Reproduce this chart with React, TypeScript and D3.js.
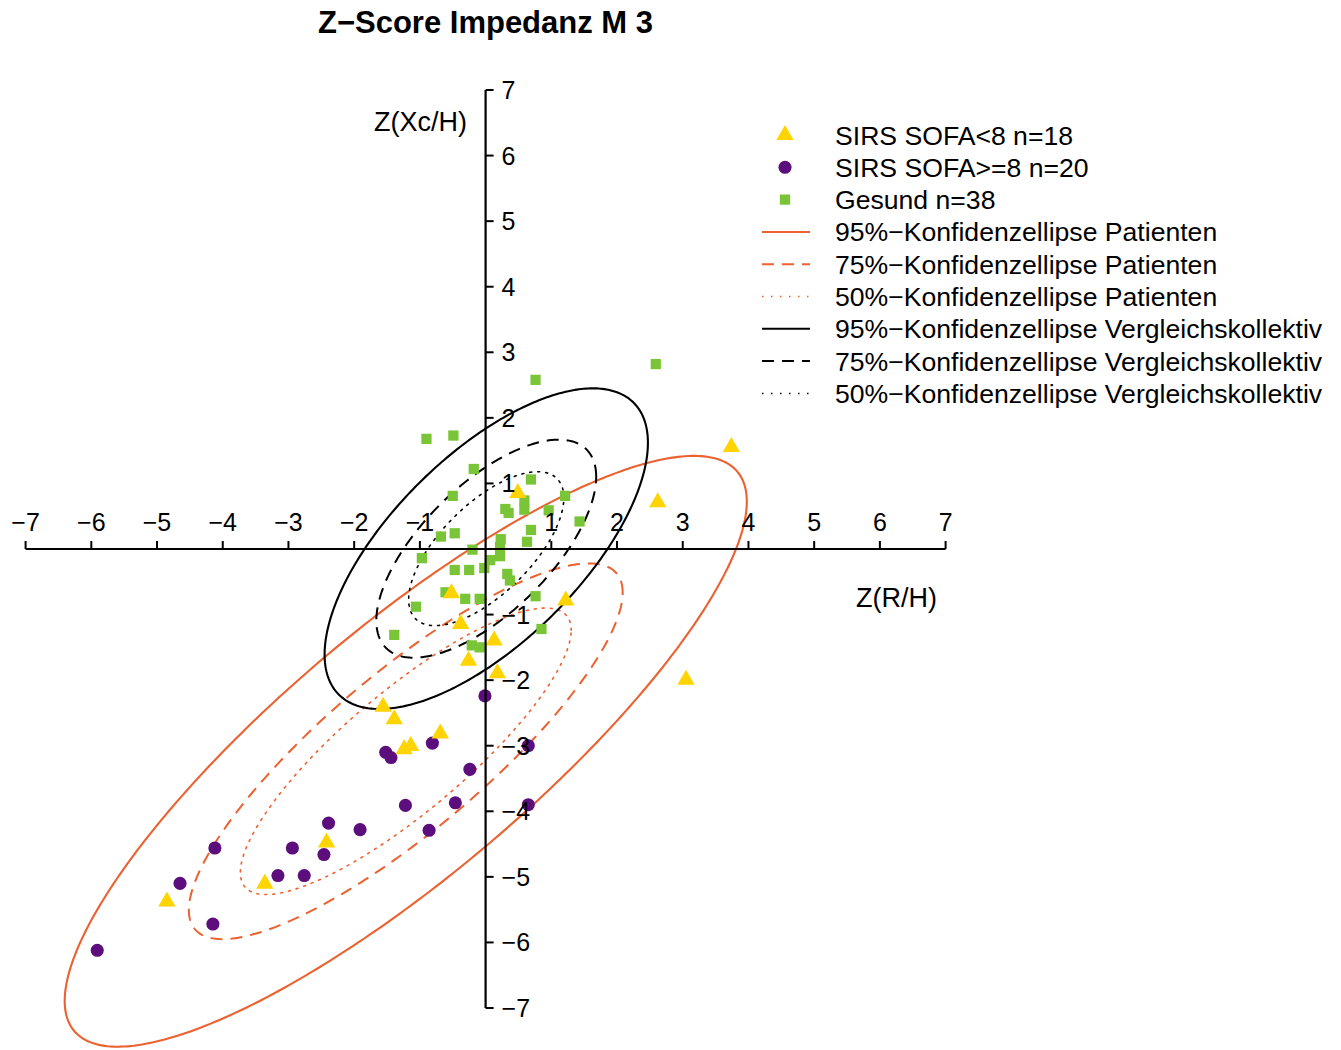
import React from "react";
import * as d3 from "d3";

// ---------- data ----------
const TITLE = "Z\u2212Score Impedanz M 3";
const X_LABEL = "Z(R/H)";
const Y_LABEL = "Z(Xc/H)";
const xTickValues = [-7, -6, -5, -4, -3, -2, -1, 1, 2, 3, 4, 5, 6, 7];
const yTickValues = [7, 6, 5, 4, 3, 2, 1, -1, -2, -3, -4, -5, -6, -7];

// SIRS SOFA<8 (triangles)
const sofaLow: [number, number][] = [
  [3.74, 1.57], [2.62, 0.73], [0.49, 0.87], [1.22, -0.77], [-0.52, -0.66],
  [-0.38, -1.13], [0.13, -1.38], [-0.26, -1.69], [0.18, -1.88], [3.05, -1.98],
  [-1.56, -2.39], [-1.39, -2.58], [-0.69, -2.8], [-1.14, -2.99], [-1.24, -3.04],
  [-2.42, -4.46], [-3.36, -5.09], [-4.85, -5.36],
];

// SIRS SOFA>=8 (circles)
const sofaHigh: [number, number][] = [
  [-0.01, -2.24], [0.65, -3.0], [-1.52, -3.1], [-1.44, -3.18], [-0.81, -2.96],
  [-0.24, -3.36], [0.65, -3.9], [-1.22, -3.91], [-0.46, -3.87], [-0.86, -4.29],
  [-1.91, -4.28], [-2.39, -4.18], [-2.46, -4.66], [-2.94, -4.56], [-2.76, -4.98],
  [-3.16, -4.98], [-4.12, -4.56], [-4.65, -5.1], [-4.15, -5.72], [-5.91, -6.12],
];

// Gesund (squares)
const healthy: [number, number][] = [
  [-0.9, 1.68], [-0.49, 1.73], [0.76, 2.58], [-0.18, 1.22], [-0.5, 0.81],
  [0.69, 1.06], [0.59, 0.74], [0.59, 0.6], [0.3, 0.61], [0.35, 0.55],
  [1.21, 0.81], [0.96, 0.59], [1.43, 0.42], [0.69, 0.29], [0.63, 0.11],
  [-0.68, 0.19], [-0.47, 0.24], [0.23, 0.15], [-0.2, -0.01], [0.22, 0.03],
  [0.22, -0.11], [0.07, -0.17], [-0.97, -0.14], [-0.47, -0.32], [-0.25, -0.32],
  [-0.02, -0.29], [0.33, -0.38], [0.37, -0.48], [-0.61, -0.66], [-0.31, -0.76],
  [-0.09, -0.76], [0.76, -0.72], [-1.06, -0.88], [0.85, -1.22], [-1.39, -1.31],
  [-0.21, -1.47], [-0.09, -1.5], [2.59, 2.82],
];

// Confidence ellipses: centre, half extents of the 95% ellipse, correlation, level scales
const patientCenter = [-1.215, -3.085];
const patientHalf = [5.19, 4.505];
const patientRho = 0.845;
const patientLevels = [1, 0.636, 0.485];

const controlCenter = [0.01, 0.005];
const controlHalf = [2.46, 2.445];
const controlRho = 0.66;
const controlLevels = [1, 0.68, 0.48];

const legendLabels = [
  "SIRS SOFA<8 n=18",
  "SIRS SOFA>=8 n=20",
  "Gesund n=38",
  "95%\u2212Konfidenzellipse Patienten",
  "75%\u2212Konfidenzellipse Patienten",
  "50%\u2212Konfidenzellipse Patienten",
  "95%\u2212Konfidenzellipse Vergleichskollektiv",
  "75%\u2212Konfidenzellipse Vergleichskollektiv",
  "50%\u2212Konfidenzellipse Vergleichskollektiv",
];

// ---------- styles ----------
const ORANGE = "#EC6130";
const YELLOW = "#FFD400";
const PURPLE = "#5C0E7C";
const GREEN = "#7AC537";
const FONT = "'Liberation Sans', Arial, Helvetica, sans-serif";
const levelDash = [null, "12,8", "2,6"];
const levelWidth = [2.1, 2, 1.6];

export default function App() {
  const W = 1341;
  const H = 1050;
  const x = d3.scaleLinear().domain([-7, 7]).range([25.6, 945.6]);
  const y = d3.scaleLinear().domain([-7, 7]).range([1008, 90]);

  const ellipsePath = (c: number[], half: number[], rho: number, s: number) => {
    const ts = d3.range(0, 361).map((d) => (d / 360) * 2 * Math.PI);
    const pts = ts.map((t) => {
      const dx = half[0] * s * Math.cos(t);
      const dy = half[1] * s * (rho * Math.cos(t) + Math.sqrt(1 - rho * rho) * Math.sin(t));
      return [x(c[0] + dx), y(c[1] + dy)] as [number, number];
    });
    return d3.line().curve(d3.curveLinearClosed)(pts) || "";
  };

  const tri = d3.symbol().type(d3.symbolTriangle).size(130)() || "";
  const circ = d3.symbol().type(d3.symbolCircle).size(135)() || "";
  const sq = d3.symbol().type(d3.symbolSquare).size(105)() || "";

  const x0 = x(0);
  const y0 = y(0);

  const legendX = 785;
  const legendTextX = 835;
  const legendRow = (i: number) => 135 + i * 32.3;

  return (
    <svg
      width={W}
      height={H}
      style={{ position: "absolute", left: 0, top: 0, background: "#fff" }}
      fontFamily={FONT}
    >
      <rect width={W} height={H} fill="#fff" />
      <text x={485.5} y={33} textAnchor="middle" fontSize={31} fontWeight="bold" fill="#000">
        {TITLE}
      </text>

      {/* ellipses */}
      {patientLevels.map((s, i) => (
        <path
          key={"p" + i}
          d={ellipsePath(patientCenter, patientHalf, patientRho, s)}
          fill="none"
          stroke={ORANGE}
          strokeWidth={levelWidth[i]}
          strokeDasharray={levelDash[i] || undefined}
          strokeLinecap={i === 2 ? "round" : "butt"}
        />
      ))}
      {controlLevels.map((s, i) => (
        <path
          key={"c" + i}
          d={ellipsePath(controlCenter, controlHalf, controlRho, s)}
          fill="none"
          stroke="#000"
          strokeWidth={levelWidth[i]}
          strokeDasharray={levelDash[i] || undefined}
          strokeLinecap={i === 2 ? "round" : "butt"}
        />
      ))}

      {/* points */}
      {healthy.map((p, i) => (
        <path key={"h" + i} d={sq} transform={`translate(${x(p[0])},${y(p[1])})`} fill={GREEN} />
      ))}
      {sofaHigh.map((p, i) => (
        <path key={"sh" + i} d={circ} transform={`translate(${x(p[0])},${y(p[1])})`} fill={PURPLE} />
      ))}
      {sofaLow.map((p, i) => (
        <path key={"sl" + i} d={tri} transform={`translate(${x(p[0])},${y(p[1]) + 1})`} fill={YELLOW} />
      ))}

      {/* x axis */}
      <line x1={x(-7)} x2={x(7)} y1={y0} y2={y0} stroke="#000" strokeWidth={2.2} />
      {xTickValues.map((v) => (
        <g key={"xt" + v}>
          <line x1={x(v)} x2={x(v)} y1={y0} y2={y0 - 8} stroke="#000" strokeWidth={2} />
          <text x={x(v)} y={y0 - 18} textAnchor="middle" fontSize={25} fill="#000">
            {v < 0 ? "\u2212" + Math.abs(v) : String(v)}
          </text>
        </g>
      ))}
      {/* y axis */}
      <line x1={x0} x2={x0} y1={y(7)} y2={y(-7)} stroke="#000" strokeWidth={2.2} />
      {yTickValues.map((v) => (
        <g key={"yt" + v}>
          <line x1={x0} x2={x0 + 8} y1={y(v)} y2={y(v)} stroke="#000" strokeWidth={2} />
          <text x={x0 + 16} y={y(v) + 9} textAnchor="start" fontSize={25} fill="#000">
            {v < 0 ? "\u2212" + Math.abs(v) : String(v)}
          </text>
        </g>
      ))}
      <text x={467} y={131} textAnchor="end" fontSize={27} fill="#000">
        {Y_LABEL}
      </text>
      <text x={937} y={607} textAnchor="end" fontSize={27} fill="#000">
        {X_LABEL}
      </text>

      {/* legend */}
      {legendLabels.map((lab, i) => {
        const cy = legendRow(i);
        let sym: React.ReactNode = null;
        if (i === 0) sym = <path d={tri} transform={`translate(${legendX},${cy})`} fill={YELLOW} />;
        else if (i === 1) sym = <path d={circ} transform={`translate(${legendX},${cy})`} fill={PURPLE} />;
        else if (i === 2) sym = <path d={sq} transform={`translate(${legendX},${cy})`} fill={GREEN} />;
        else {
          const lvl = (i - 3) % 3;
          const col = i < 6 ? ORANGE : "#000";
          sym = (
            <line
              x1={762}
              x2={810}
              y1={cy}
              y2={cy}
              stroke={col}
              strokeWidth={lvl === 2 ? 1.5 : 2}
              strokeDasharray={lvl === 1 ? "12,8" : lvl === 2 ? "1.5,7.5" : undefined}
            />
          );
        }
        return (
          <g key={"lg" + i}>
            {sym}
            <text x={legendTextX} y={cy + 9.5} fontSize={26.6} fill="#000">
              {lab}
            </text>
          </g>
        );
      })}
    </svg>
  );
}
